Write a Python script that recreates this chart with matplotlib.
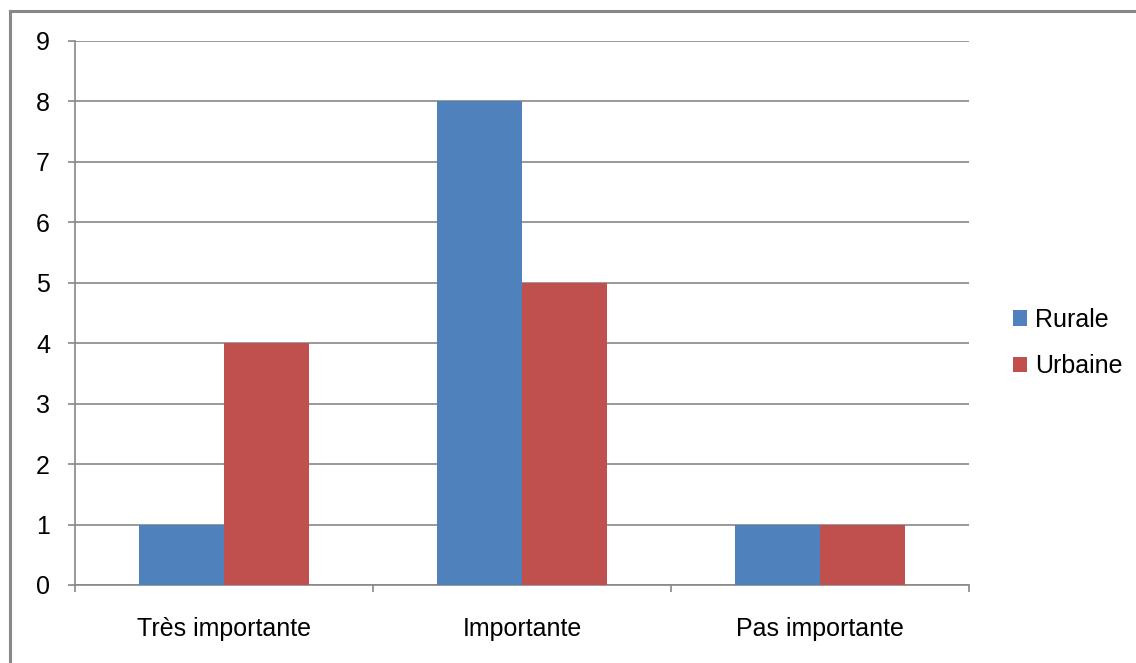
import matplotlib
matplotlib.use("Agg")
import matplotlib.pyplot as plt
import numpy as np
from matplotlib.lines import Line2D
from matplotlib.patches import Patch

categories = ["Très importante", "Importante", "Pas importante"]
series_names = ["Rurale", "Urbaine"]
rurale = [1, 8, 1]
urbaine = [4, 5, 1]
y_ticks = list(range(0, 10))

colors = ["#4F81BD", "#C0504D"]
grid_color = "#888888"

plt.rcParams["font.family"] = ["Liberation Sans", "DejaVu Sans"]

fig = plt.figure(figsize=(11.36, 6.63), dpi=100)
ax = fig.add_axes([75 / 1136, 78 / 663, 894 / 1136, 544 / 663])

x = np.arange(len(categories))
w = 0.285
ax.bar(x - w / 2, rurale, width=w, color=colors[0], zorder=3)
ax.bar(x + w / 2, urbaine, width=w, color=colors[1], zorder=3)

ax.set_xlim(-0.5, len(categories) - 0.5)
ax.set_ylim(0, 9)
ax.set_yticks(y_ticks)
ax.set_yticklabels([str(v) for v in y_ticks])
ax.yaxis.grid(True, color=grid_color, linewidth=1.2, zorder=0)
ax.set_axisbelow(True)

# category labels between boundary ticks
ax.set_xticks(np.arange(-0.5, len(categories)), minor=False)
ax.set_xticklabels([""] * (len(categories) + 1))
ax.set_xticks(x, minor=True)
ax.set_xticklabels(categories, minor=True)
ax.tick_params(axis="x", which="minor", length=0, pad=23, labelsize=18)
ax.tick_params(axis="x", which="major", length=5, width=1.2, color=grid_color, direction="out")
ax.tick_params(axis="y", length=5, width=1.2, color=grid_color, direction="out", pad=13, labelsize=18)

for side in ["top", "right"]:
    ax.spines[side].set_visible(False)
for side in ["left", "bottom"]:
    ax.spines[side].set_color(grid_color)
    ax.spines[side].set_linewidth(1.2)

handles = [Patch(facecolor=c, edgecolor="none") for c in colors]
fig.legend(handles, series_names, loc="center left", bbox_to_anchor=(1013 / 1136, 320 / 663),
           frameon=False, fontsize=18, handlelength=0.56, handleheight=0.56,
           handletextpad=0.32, labelspacing=0.9, borderaxespad=0, borderpad=0)

# outer frame (top and left edges)
fig.add_artist(Line2D([10 / 1136, 10 / 1136], [0, 1 - 11 / 663], transform=fig.transFigure,
                      color=grid_color, linewidth=2.2))
fig.add_artist(Line2D([10 / 1136, 1], [1 - 11 / 663, 1 - 11 / 663], transform=fig.transFigure,
                      color=grid_color, linewidth=2.2))

fig.savefig("out.png", dpi=100)
